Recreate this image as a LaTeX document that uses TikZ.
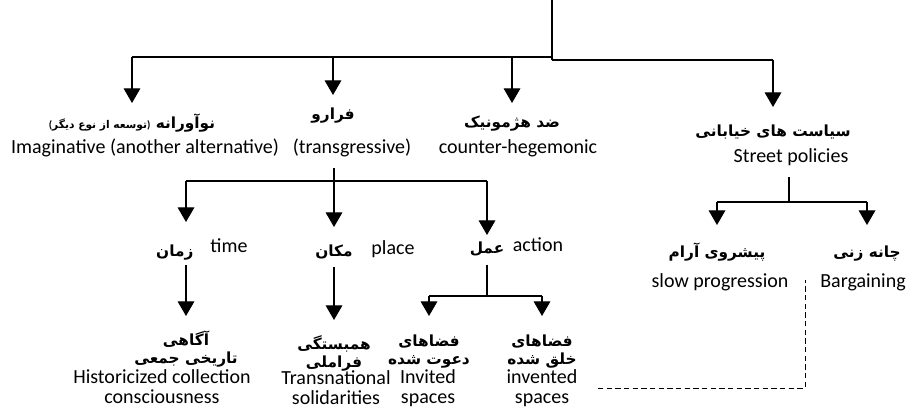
\documentclass[tikz,border=0pt]{standalone}
\usepackage{fontspec}
\setmainfont{Carlito}
\newfontfamily\arabicfont[Script=Arabic]{DejaVu Sans}
\TeXXeTstate=1
\usetikzlibrary{positioning,arrows.meta}
\newcommand{\fa}[1]{\beginR#1\endR}
\newcommand{\down}[2]{\draw[arr] (#1 -| #2) -- (#2);}
\tikzset{
	fa/.style={font=\arabicfont\bfseries\fontsize{11.5}{13.5}\selectfont,align=center,inner sep=2pt,inner ysep=#1},
	fa/.default=2pt,
	en/.style={font=\fontsize{15}{15}\selectfont,align=center,inner sep=1pt},
	arr/.style={-{Triangle[width=12.5pt,length=11pt]}},
	linkdash/.style={dash pattern=on 4pt off 2.5pt,line width=0.7pt},
}

\begin{document}
\begin{tikzpicture}[x=0.75pt,y=-0.75pt,line width=0.9pt]
    \useasboundingbox (0,0) rectangle (912,412);
    % first level
    \coordinate (root) at (552,0);
    \coordinate (barL) at (552,57);
    \coordinate (barR) at (552,60);
    \node[fa=8pt,anchor=north] (imagfa) at (132,103) {{\normalfont\bfseries\fontsize{8}{9}\selectfont(}{\fontsize{8}{9}\selectfont\fa{توسعه از نوع دیگر}}{\normalfont\bfseries\fontsize{8}{9}\selectfont)} \fa{نوآورانه}};
    \node[fa=9pt,anchor=north] (transfa) at (333,95) {\fa{فرارو}};
    \node[fa=9pt,anchor=north] (counterfa) at (512,103) {\fa{ضد هژمونیک}};
    \node[fa=13pt,anchor=north] (streetfa) at (773,107) {\fa{سیاست های خیابانی}};
    \node[en] (imagen) at (145,148) {Imaginative (another alternative)};
    \node[en] (transen) at (352,148) {(transgressive)};
    \node[en] (counteren) at (518,148) {counter-hegemonic};
    \node[en] (streeten) at (791,157) {Street policies};

    \draw (root) -- (barR);
    \draw (imagfa.north |- barL) -- (barL);
    \draw (barR) -- (streetfa.north |- barR);
    \down{barL}{imagfa.north}
    \down{barL}{transfa.north}
    \down{barL}{counterfa.north}
    \down{barR}{streetfa.north}

    % street policies
    \coordinate (streetbar) at (789,202);
    \node[fa=13pt,anchor=north] (slowfa) at (717,225) {\fa{پیشروی آرام}};
    \node[fa=15pt,anchor=north] (bargfa) at (867,225) {\fa{چانه زنی}};
    \node[en] (slowen) at (720,282) {slow progression};
    \node[en] (bargen) at (863,282) {Bargaining};
    \draw[shorten <=7pt] (streeten.south -| streetbar) -- (streetbar);
    \draw (slowfa.north |- streetbar) -- (bargfa.north |- streetbar);
    \down{streetbar}{slowfa.north}
    \down{streetbar}{bargfa.north}

    % transgressive
    \coordinate (transbar) at (334,181);
    \node[fa=17pt,anchor=north east] (timefa) at (186,222) {\fa{زمان}\kern-8pt};
    \node[fa=13pt,anchor=north] (placefa) at (334,227) {\fa{مکان}};
    \node[fa=5pt,anchor=north] (actionfa) at (487,235) {\fa{عمل}};
    \node[en] (timeen) at (229,246) {time};
    \node[en] (placeen) at (393,249) {place};
    \node[en] (actionen) at (538,245) {action};
    \draw[shorten <=7pt] (transbar |- transen.south) -- (transbar);
    \draw (timefa.north east |- transbar) -- (actionfa.north |- transbar);
    \down{transbar}{timefa.north east}
    \down{transbar}{placefa.north}
    \down{transbar}{actionfa.north}

    % third level
    \coordinate (actionbar) at (487,296);
    \node[fa=11pt,anchor=north] (histfa) at (186,316) {\fa{آگاهی}\\\fa{تاریخی جمعی}};
    \node[fa=11pt,anchor=north] (solfa) at (334,320) {\fa{همبستگی}\\\fa{فراملی}};
    \node[fa=14pt,anchor=north] (invitfa) at (429,316) {\fa{فضاهای}\\\fa{دعوت شده}};
    \node[fa=14pt,anchor=north] (inventfa) at (542,316) {\fa{فضاهای}\\\fa{خلق شده}};
    \node[en] (histen) at (162,387) {Historicized collection\\consciousness};
    \node[en] (solen) at (336,388) {Transnational\\solidarities};
    \node[en] (inviten) at (428,388) {Invited\\spaces};
    \node[en] (inventen) at (542,388) {invented\\spaces};
    \draw[arr,shorten <=6pt] (histfa.north |- timefa.base) -- (histfa.north);
    \draw[arr,shorten <=8pt] (placefa.base) -- (solfa.north);
    \draw[shorten <=8pt] (actionfa.base) -- (actionbar);
    \draw (invitfa.north |- actionbar) -- (inventfa.north |- actionbar);
    \down{actionbar}{invitfa.north}
    \down{actionbar}{inventfa.north}

    % link to bargaining
    \coordinate (dashtop) at (805,280);
    \draw[linkdash,shorten <=14pt] (inventen.east) -- (inventen.east -| dashtop) -- (dashtop);
\end{tikzpicture}
\end{document}
